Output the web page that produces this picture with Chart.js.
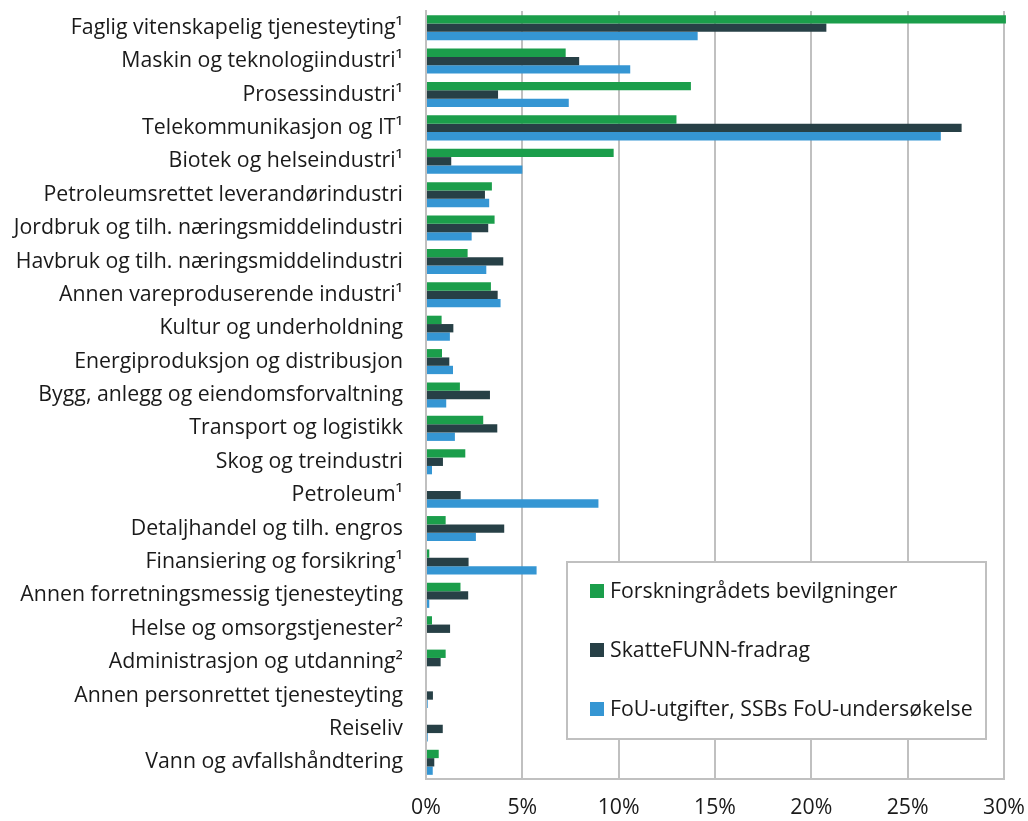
<!DOCTYPE html>
<html>
<head>
<meta charset="utf-8">
<script src="https://cdn.jsdelivr.net/npm/chart.js@4/dist/chart.umd.min.js"></script>
<style>
  html, body { margin: 0; padding: 0; background: #ffffff; }
  #wrap { width: 1028px; height: 821px; position: relative; }
</style>
</head>
<body>
<div id="wrap"><canvas id="c" width="1028" height="821"></canvas></div>
<script>
const categories = [
  "Faglig vitenskapelig tjenesteyting¹",
  "Maskin og teknologiindustri¹",
  "Prosessindustri¹",
  "Telekommunikasjon og IT¹",
  "Biotek og helseindustri¹",
  "Petroleumsrettet leverandørindustri",
  "Jordbruk og tilh. næringsmiddelindustri",
  "Havbruk og tilh. næringsmiddelindustri",
  "Annen vareproduserende industri¹",
  "Kultur og underholdning",
  "Energiproduksjon og distribusjon",
  "Bygg, anlegg og eiendomsforvaltning",
  "Transport og logistikk",
  "Skog og treindustri",
  "Petroleum¹",
  "Detaljhandel og tilh. engros",
  "Finansiering og forsikring¹",
  "Annen forretningsmessig tjenesteyting",
  "Helse og omsorgstjenester²",
  "Administrasjon og utdanning²",
  "Annen personrettet tjenesteyting",
  "Reiseliv",
  "Vann og avfallshåndtering"
];
const seriesNames = [
  "Forskningrådets bevilgninger",
  "SkatteFUNN-fradrag",
  "FoU-utgifter, SSBs FoU-undersøkelse"
];
const forskningsradet = [30.1, 7.25, 13.75, 13.0, 9.74, 3.42, 3.56, 2.16, 3.37, 0.81, 0.83, 1.76, 2.97, 2.04, 0, 1.02, 0.17, 1.79, 0.31, 1.02, 0, 0, 0.66];
const skattefunn = [20.78, 7.95, 3.74, 27.8, 1.31, 3.06, 3.23, 4.01, 3.72, 1.42, 1.21, 3.32, 3.7, 0.88, 1.8, 4.06, 2.21, 2.19, 1.25, 0.76, 0.36, 0.87, 0.43];
const fouUtgifter = [14.1, 10.6, 7.41, 26.72, 5.0, 3.28, 2.37, 3.13, 3.87, 1.24, 1.4, 1.05, 1.5, 0.31, 8.95, 2.59, 5.74, 0.17, 0, 0, 0.09, 0.09, 0.35];
const xTicks = [0, 5, 10, 15, 20, 25, 30];

const colors = ["#1b9e4b", "#274046", "#3596d3"];
const FONT = "'Open Sans', 'Noto Sans', sans-serif";
const FSIZE = 21.3;
const TEXT = "#1a1a1a";
const GRID = "#c0c0c0";

const legendBox = {
  id: 'legendBox',
  afterDraw(chart) {
    const ctx = chart.ctx;
    const x0 = 567, y0 = 562, x1 = 986, y1 = 739;
    ctx.save();
    ctx.fillStyle = "#ffffff";
    ctx.fillRect(x0, y0, x1 - x0, y1 - y0);
    ctx.strokeStyle = GRID;
    ctx.lineWidth = 2;
    ctx.strokeRect(x0, y0, x1 - x0, y1 - y0);
    const rowsY = [591, 650, 709];
    ctx.font = FSIZE + "px " + FONT;
    ctx.textBaseline = "middle";
    ctx.textAlign = "left";
    seriesNames.forEach((name, i) => {
      ctx.fillStyle = colors[i];
      ctx.fillRect(590, rowsY[i] - 7, 14, 14);
      ctx.fillStyle = TEXT;
      ctx.fillText(name, 610, rowsY[i] + 1);
    });
    ctx.restore();
  }
};

const datasets = [forskningsradet, skattefunn, fouUtgifter].map((d, i) => ({
  label: seriesNames[i],
  data: d,
  backgroundColor: colors[i],
  borderWidth: 0,
  categoryPercentage: 0.75,
  barPercentage: 1.0,
  clip: false
}));

new Chart(document.getElementById('c'), {
  type: 'bar',
  data: { labels: categories, datasets },
  plugins: [legendBox],
  options: {
    indexAxis: 'y',
    responsive: false,
    animation: false,
    layout: { padding: { top: 11, right: 24, left: 0, bottom: 0 } },
    plugins: { legend: { display: false }, tooltip: { enabled: false } },
    scales: {
      x: {
        type: 'linear',
        min: 0, max: 30,
        afterBuildTicks(scale) { scale.ticks = xTicks.map(v => ({ value: v })); },
        afterFit(scale) { scale.height = 42; scale.paddingLeft = 0; scale.paddingRight = 0; },
        grid: { color: GRID, lineWidth: 2, drawTicks: false },
        border: { display: true, color: GRID, width: 2 },
        ticks: {
          padding: 16,
          color: TEXT,
          font: { family: FONT, size: FSIZE },
          callback: v => v + "%"
        }
      },
      y: {
        afterFit(scale) { scale.width = 426; scale.paddingTop = 0; scale.paddingBottom = 0; },
        grid: { display: false, drawTicks: false },
        border: { display: true, color: GRID, width: 2 },
        ticks: {
          padding: 23,
          color: TEXT,
          font: { family: FONT, size: FSIZE },
          autoSkip: false
        }
      }
    }
  }
});
</script>
</body>
</html>
